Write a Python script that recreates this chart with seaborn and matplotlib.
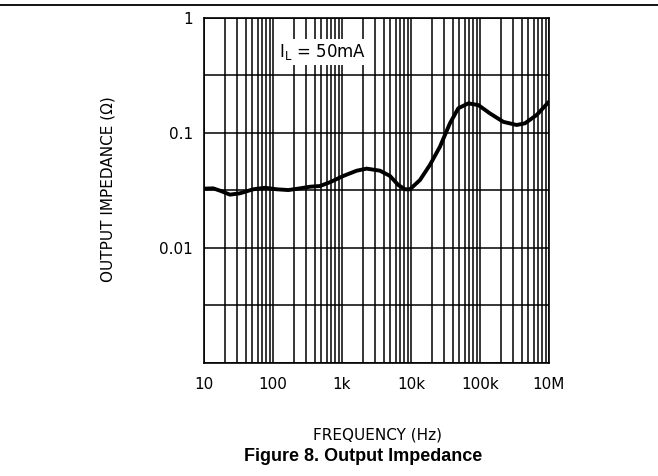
import numpy as np
import matplotlib
matplotlib.use("Agg")
import matplotlib.pyplot as plt
import seaborn as sns
from matplotlib.lines import Line2D

# values (frequency in Hz, impedance in ohms)
freq = [10, 13.6, 17.1, 23.8, 33.3, 51.8, 76.5, 113, 167, 246, 344, 480, 670,
        1045, 1633, 2280, 3556, 4966, 6550, 8190, 9680, 13500, 18800, 26300,
        36700, 48500, 67700, 94500, 139500, 218000, 340000, 449000, 664000, 1e6]
imp = [0.0328, 0.0330, 0.0315, 0.0291, 0.0299, 0.0324, 0.0334, 0.0324, 0.0319,
       0.0330, 0.0341, 0.0346, 0.0373, 0.0423, 0.0470, 0.0490, 0.0470, 0.0423,
       0.0353, 0.0324, 0.0324, 0.0390, 0.0527, 0.0760, 0.1214, 0.164, 0.181,
       0.175, 0.148, 0.125, 0.1174, 0.1214, 0.1435, 0.187]

x_ticks = [10, 100, 1e3, 1e4, 1e5, 1e6]
x_labels = ['10', '100', '1k', '10k', '100k', '10M']
y_ticks = [1, 0.1, 0.01, 0.001]
y_labels = ['1', '0.1', '0.01', '']

sns.set_style("white")
plt.rcParams['font.family'] = ['DejaVu Sans']
plt.rcParams['text.color'] = 'black'
plt.rcParams['xtick.color'] = 'black'
plt.rcParams['ytick.color'] = 'black'
plt.rcParams['axes.labelcolor'] = 'black'

fig = plt.figure(figsize=(6.58, 4.76), dpi=100)
ax = fig.add_axes([0.310, 0.2374, 0.5243, 0.7248])

sns.lineplot(x=freq, y=imp, color='black', linewidth=2.8, ax=ax, zorder=5)
ax.lines[0].set_solid_joinstyle('round')
ax.lines[0].set_solid_capstyle('round')

ax.set_xscale('log')
ax.set_yscale('log')
ax.set_xlim(10, 1e6)
ax.set_ylim(0.001, 1)

ax.set_xticks(x_ticks)
ax.set_xticklabels(x_labels, fontsize=11)
ax.set_xticks([m * 10 ** d for d in range(1, 6) for m in range(2, 10)], minor=True)
ax.set_yticks(y_ticks)
ax.set_yticklabels(y_labels, fontsize=11)
ax.set_yticks([10 ** -0.5, 10 ** -1.5, 10 ** -2.5], minor=True)
ax.yaxis.set_minor_formatter(plt.NullFormatter())
ax.xaxis.set_minor_formatter(plt.NullFormatter())

ax.tick_params(which='both', length=0)
ax.tick_params(axis='x', pad=10)
ax.tick_params(axis='y', pad=8)
ax.grid(True, which='both', color='black', linewidth=1.1)
for s in ax.spines.values():
    s.set_color('black')
    s.set_linewidth(1.2)

ax.text(525, 0.506, r'I$_\mathregular{L}$ = 50mA', fontsize=12, ha='center', va='center',
        bbox=dict(facecolor='white', edgecolor='none', pad=2), zorder=6)

fig.add_artist(Line2D([0, 1], [0.9895, 0.9895], color='black', linewidth=1.3,
                      transform=fig.transFigure))

fig.text(0.164, 0.603, 'OUTPUT IMPEDANCE (Ω)', rotation=90, fontsize=11,
         ha='center', va='center')
fig.text(0.573, 0.0861, 'FREQUENCY (Hz)', fontsize=11, ha='center', va='center')
fig.text(0.552, 0.040, 'Figure 8. Output Impedance', fontsize=13, fontweight='bold',
         family='Liberation Sans', ha='center', va='center')

fig.savefig('out.png', dpi=100, facecolor='white')
